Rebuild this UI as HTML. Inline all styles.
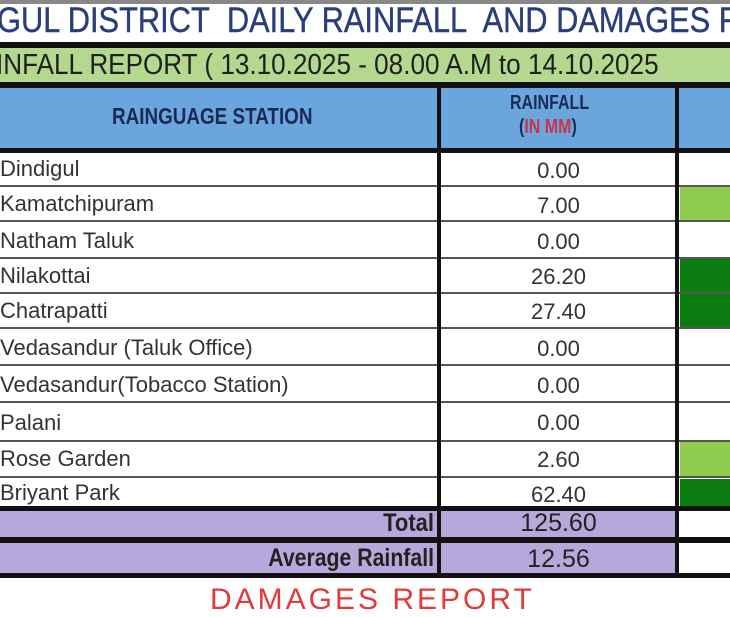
<!DOCTYPE html>
<html><head><style>
body{margin:0;width:730px;height:591px;overflow:hidden;background:#fff;position:relative;font-family:"Liberation Sans",sans-serif;}
div{position:absolute;box-sizing:border-box;}
.t{white-space:nowrap;color:#333;font-size:22px;}
.hl{left:0;width:730px;background:#555;height:2px;}
.bk{left:0;width:730px;background:#111;}
</style></head><body>
<div style="left:0;top:0;width:730px;height:4px;background:#888"></div>
<div class="t" style="left:-3px;top:1px;font-size:35px;color:#2a3f7a;transform:scaleX(0.88);transform-origin:left;-webkit-text-stroke:0.4px #2a3f7a">GUL DISTRICT&nbsp; DAILY RAINFALL&nbsp; AND DAMAGES R</div>
<div class="bk" style="top:42px;height:6px"></div>
<div style="left:0;top:48px;width:730px;height:34px;background:#b3d88e"></div>
<div class="t" style="left:-4px;top:49px;font-size:29px;color:#1f1f1f;transform:scaleX(0.9);transform-origin:left">INFALL REPORT ( 13.10.2025 - 08.00 A.M to 14.10.2025</div>
<div class="bk" style="top:82px;height:6px"></div>
<div style="left:0;top:88px;width:730px;height:61px;background:#6aa6dd"></div>
<div class="t" style="left:112px;top:103px;font-size:23px;font-weight:bold;color:#1b2a55;transform:scaleX(0.82);transform-origin:left">RAINGUAGE STATION</div>
<div class="t" style="left:510px;top:92px;font-size:20px;font-weight:bold;color:#1b2a55;transform:scaleX(0.8);transform-origin:left">RAINFALL</div>
<div class="t" style="left:519px;top:116px;font-size:20px;font-weight:bold;color:#c8354a;transform:scaleX(0.8);transform-origin:left"><span style="color:#1b2a55">(</span>IN MM<span style="color:#1b2a55">)</span></div>
<div class="bk" style="top:148px;height:5px"></div>

<div style="left:680px;top:187px;width:50px;height:33px;background:#8fcc4e"></div>
<div style="left:680px;top:259px;width:50px;height:68px;background:#0b7d10"></div>
<div style="left:680px;top:442px;width:50px;height:35px;background:#8fcc4e"></div>
<div style="left:680px;top:479px;width:50px;height:28px;background:#0b7d10"></div>

<div class="hl" style="top:185px"></div>
<div class="hl" style="top:220px"></div>
<div class="hl" style="top:257px"></div>
<div class="hl" style="top:292px"></div>
<div class="hl" style="top:327px"></div>
<div class="hl" style="top:364px"></div>
<div class="hl" style="top:401px"></div>
<div class="hl" style="top:440px"></div>
<div class="hl" style="top:476px"></div>

<div style="left:0;top:511px;width:676px;height:26px;background:#b7a8dc"></div>
<div style="left:0;top:543px;width:676px;height:30px;background:#b7a8dc"></div>
<div class="bk" style="top:506px;height:5px"></div>
<div class="bk" style="top:537px;height:6px"></div>
<div class="bk" style="top:573px;height:5px"></div>

<div style="left:437px;top:88px;width:4px;height:490px;background:#111"></div>
<div style="left:675px;top:88px;width:4px;height:490px;background:#111"></div>

<div class="t" style="left:0;top:156px">Dindigul</div>
<div class="t" style="left:0;top:191px">Kamatchipuram</div>
<div class="t" style="left:0;top:228px">Natham Taluk</div>
<div class="t" style="left:0;top:263px">Nilakottai</div>
<div class="t" style="left:0;top:298px">Chatrapatti</div>
<div class="t" style="left:0;top:335px">Vedasandur (Taluk Office)</div>
<div class="t" style="left:0;top:372px">Vedasandur(Tobacco Station)</div>
<div class="t" style="left:0;top:410px">Palani</div>
<div class="t" style="left:0;top:446px">Rose Garden</div>
<div class="t" style="left:0;top:480px">Briyant Park</div>

<div class="t" style="left:442px;width:233px;text-align:center;top:158px">0.00</div>
<div class="t" style="left:442px;width:233px;text-align:center;top:193px">7.00</div>
<div class="t" style="left:442px;width:233px;text-align:center;top:229px">0.00</div>
<div class="t" style="left:442px;width:233px;text-align:center;top:264px">26.20</div>
<div class="t" style="left:442px;width:233px;text-align:center;top:299px">27.40</div>
<div class="t" style="left:442px;width:233px;text-align:center;top:336px">0.00</div>
<div class="t" style="left:442px;width:233px;text-align:center;top:373px">0.00</div>
<div class="t" style="left:442px;width:233px;text-align:center;top:410px">0.00</div>
<div class="t" style="left:442px;width:233px;text-align:center;top:447px">2.60</div>
<div class="t" style="left:442px;width:233px;text-align:center;top:482px">62.40</div>

<div class="t" style="left:0;width:434px;text-align:right;top:509px;font-size:25px;color:#222;transform:scaleX(0.88);transform-origin:right;font-weight:bold">Total</div>
<div class="t" style="left:442px;width:233px;text-align:center;top:509px;font-size:25px;color:#222">125.60</div>
<div class="t" style="left:0;width:434px;text-align:right;top:544px;font-size:25px;color:#222;transform:scaleX(0.85);transform-origin:right;font-weight:bold">Average Rainfall</div>
<div class="t" style="left:442px;width:233px;text-align:center;top:545px;font-size:25px;color:#222">12.56</div>

<div class="t" style="left:210px;top:583px;font-size:30px;color:#e03a3a;letter-spacing:3px">DAMAGES REPORT</div>
</body></html>
